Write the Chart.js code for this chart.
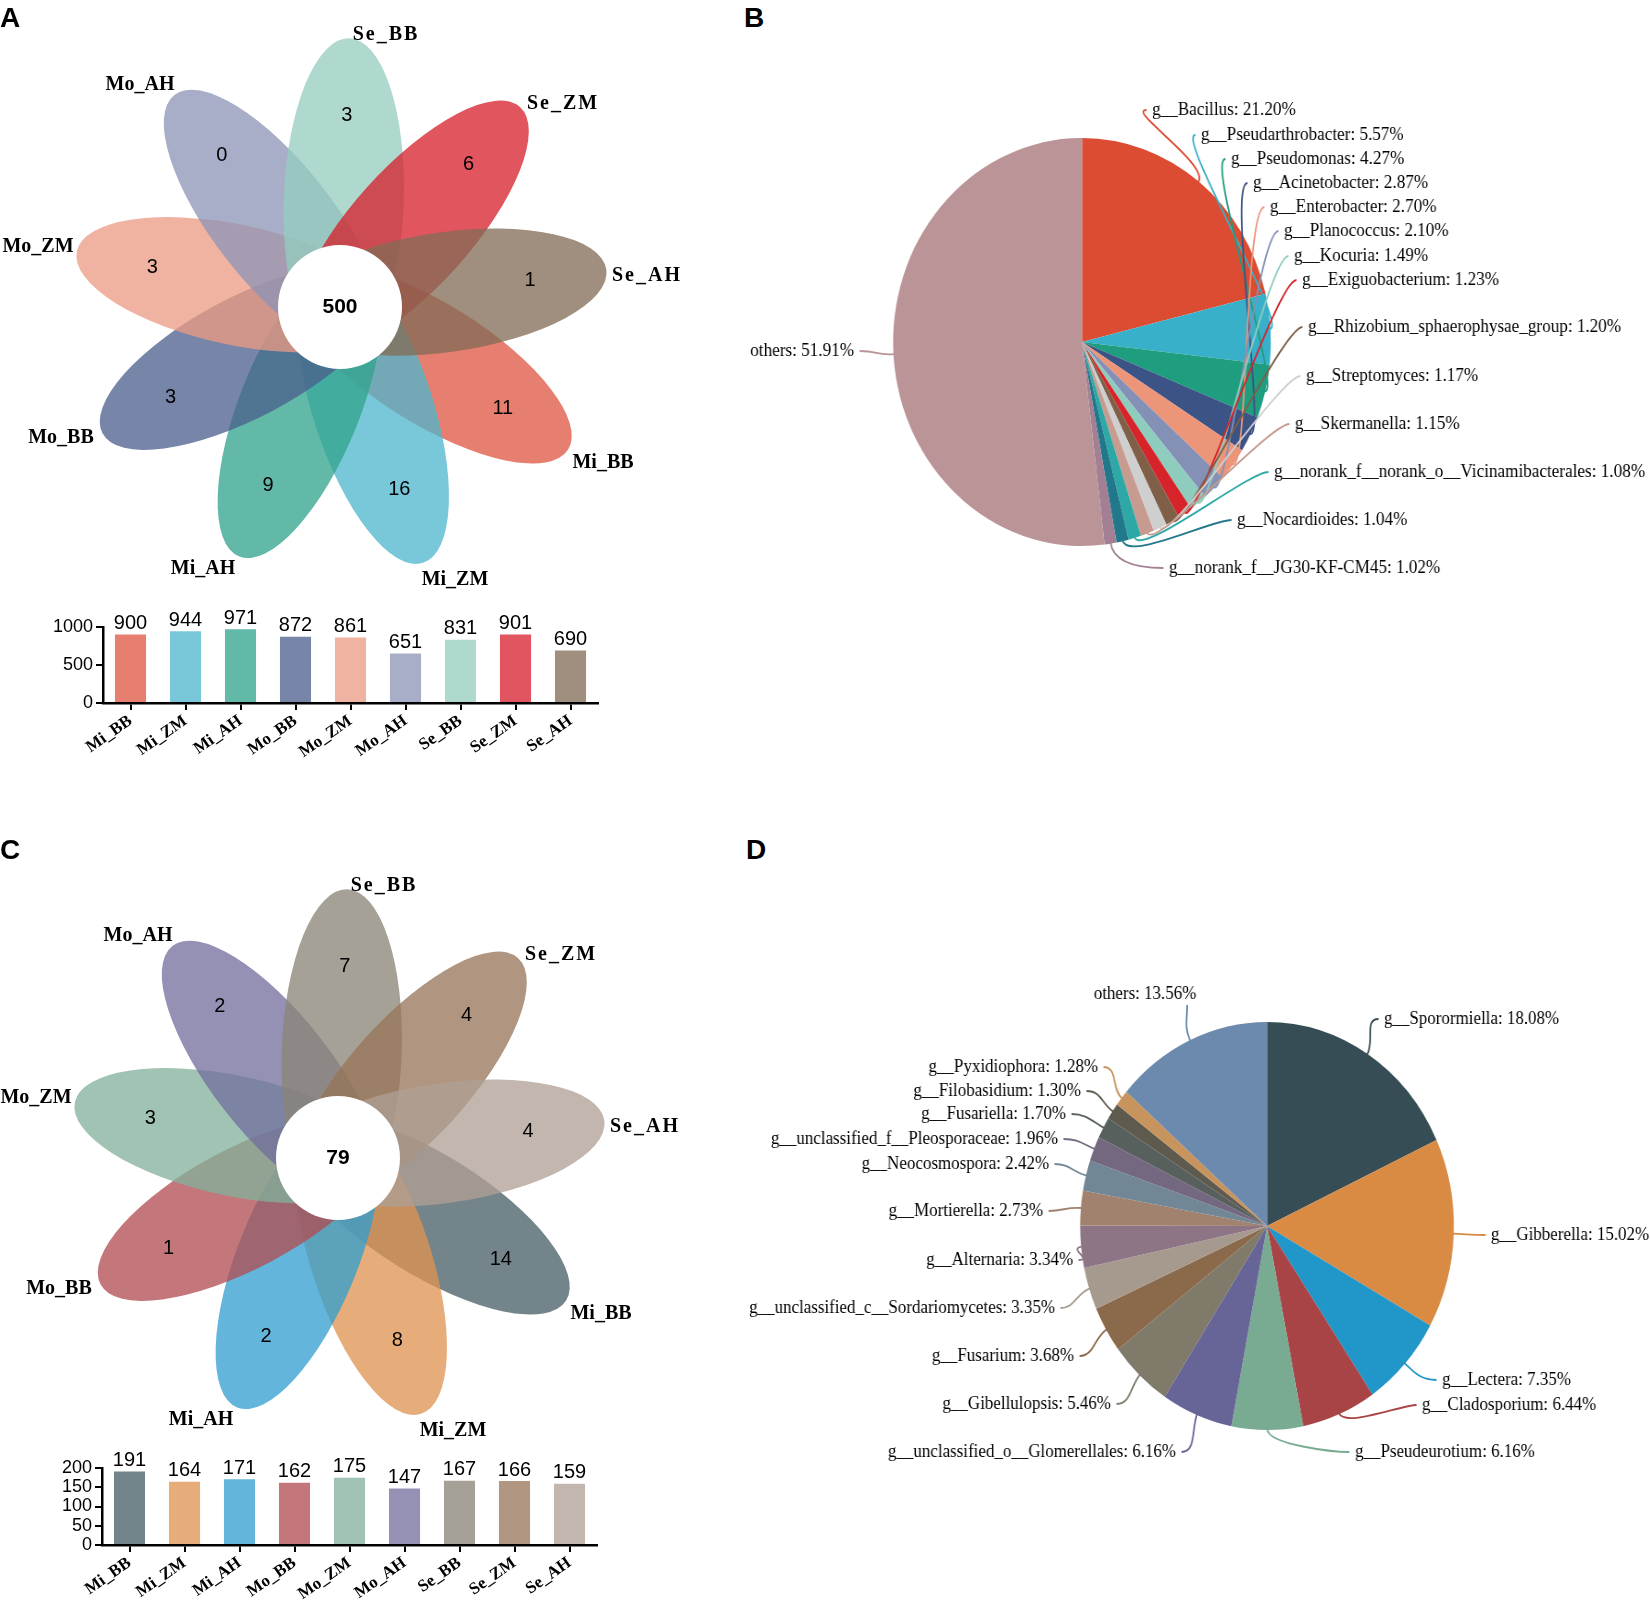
<!DOCTYPE html>
<html>
<head>
<meta charset="utf-8">
<script src="https://cdn.jsdelivr.net/npm/chart.js@4.4.1/dist/chart.umd.min.js"></script>
<style>
  body { margin: 0; background: #fff; width: 1650px; height: 1600px; position: relative; overflow: hidden; }
  .box { position: absolute; }
  .squeeze { transform-origin: 0 0; }
  .tag { position: absolute; font: bold 28px "Liberation Sans", Arial, sans-serif; line-height: 1; }
</style>
</head>
<body>
<div class="box" style="left:0;top:0"><canvas id="flowerA" width="700" height="600"></canvas></div>
<div class="box" style="left:0;top:800px"><canvas id="flowerC" width="700" height="660"></canvas></div>
<div class="box" style="left:0;top:590px"><canvas id="barA" width="640" height="170"></canvas></div>
<div class="box" style="left:0;top:1420px"><canvas id="barC" width="640" height="180"></canvas></div>
<div class="box squeeze" style="left:740px;top:60px;transform:scaleX(0.926)"><canvas id="pieB" width="983" height="560"></canvas></div>
<div class="box squeeze" style="left:740px;top:880px;transform:scaleX(0.916)"><canvas id="pieD" width="994" height="620"></canvas></div>
<div class="tag" style="left:0;top:4px">A</div>
<div class="tag" style="left:744px;top:4px">B</div>
<div class="tag" style="left:0;top:836px">C</div>
<div class="tag" style="left:746px;top:836px">D</div>
<script>
// samples (same order in bars and petals)
const samples = ['Mi_BB', 'Mi_ZM', 'Mi_AH', 'Mo_BB', 'Mo_ZM', 'Mo_AH', 'Se_BB', 'Se_ZM', 'Se_AH'];

// bacteria (A)
const bacTotals = [900, 944, 971, 872, 861, 651, 831, 901, 690];
const bacUnique = [11, 16, 9, 3, 3, 0, 3, 6, 1];
const bacCore = 500;
const bacTicks = [0, 500, 1000];

// fungi (C)
const fungTotals = [191, 164, 171, 162, 175, 147, 167, 166, 159];
const fungUnique = [14, 8, 2, 1, 3, 2, 7, 4, 4];
const fungCore = 79;
const fungTicks = [0, 50, 100, 150, 200];

// genus composition (B)
const bacGenera = ['g__Bacillus', 'g__Pseudarthrobacter', 'g__Pseudomonas', 'g__Acinetobacter', 'g__Enterobacter',
  'g__Planococcus', 'g__Kocuria', 'g__Exiguobacterium', 'g__Rhizobium_sphaerophysae_group', 'g__Streptomyces',
  'g__Skermanella', 'g__norank_f__norank_o__Vicinamibacterales', 'g__Nocardioides', 'g__norank_f__JG30-KF-CM45', 'others'];
const bacShare = [21.20, 5.57, 4.27, 2.87, 2.70, 2.10, 1.49, 1.23, 1.20, 1.17, 1.15, 1.08, 1.04, 1.02, 51.91];

// genus composition (D)
const fungGenera = ['g__Sporormiella', 'g__Gibberella', 'g__Lectera', 'g__Cladosporium', 'g__Pseudeurotium',
  'g__unclassified_o__Glomerellales', 'g__Gibellulopsis', 'g__Fusarium', 'g__unclassified_c__Sordariomycetes',
  'g__Alternaria', 'g__Mortierella', 'g__Neocosmospora', 'g__unclassified_f__Pleosporaceae', 'g__Fusariella',
  'g__Filobasidium', 'g__Pyxidiophora', 'others'];
const fungShare = [18.08, 15.02, 7.35, 6.44, 6.16, 6.16, 5.46, 3.68, 3.35, 3.34, 2.73, 2.42, 1.96, 1.70, 1.30, 1.28, 13.56];

// colours
const bacBarColors = ['#e67f70', '#79c8d9', '#62b9a8', '#7685a8', '#f1b3a1', '#a8aec8', '#afd9cf', '#e0555f', '#a08f7e'];
const fungBarColors = ['#73848a', '#e6ad7a', '#63b5db', '#c4777a', '#a0c3b3', '#9491b5', '#a6a197', '#b09680', '#c2b6ae'];
const bacPieColors = ['#dc4c33', '#39b0c9', '#1e9d7f', '#3b5385', '#ed9579', '#8490b5', '#8ecdbd', '#d7232a',
  '#7f5f47', '#cfcfcf', '#c79b8f', '#2da8a6', '#22788b', '#a27f92', '#bb9498'];
const fungPieColors = ['#374d55', '#d98a43', '#2196c9', '#a84446', '#79ab92', '#676497', '#7f7a6a', '#8b6a4c',
  '#a69a8f', '#8d7585', '#a0826e', '#718795', '#746880', '#58605d', '#5e5a4e', '#c8945e', '#6c8aad'];

// layout
const SERIF = '"Liberation Serif", "Times New Roman", serif';
const SANS = '"Liberation Sans", Arial, sans-serif';
const petal = { start: 122, step: 40, dist: 107, a: 162, b: 60, alpha: 0.76, numDist: 192, core: 62 };
const nameOffsets = [[263, 156], [115, 273], [-137, 262], [-279, 131], [-302, -60], [-200, -222],
  [46, -272], [223, -203], [307, -31]];
const bacLabelPos = [[1152, 110, 'l'], [1201, 135, 'l'], [1231, 159, 'l'], [1253, 183, 'l'], [1270, 207, 'l'],
  [1284, 231, 'l'], [1294, 256, 'l'], [1302, 280, 'l'], [1308, 327, 'l'], [1306, 376, 'l'], [1295, 424, 'l'],
  [1274, 472, 'l'], [1237, 520, 'l'], [1169, 568, 'l'], [854, 351, 'r']];
const fungLabelPos = [[1384, 1019, 'l'], [1491, 1235, 'l'], [1442, 1380, 'l'], [1422, 1405, 'l'], [1355, 1452, 'l'],
  [1176, 1452, 'r'], [1111, 1404, 'r'], [1074, 1356, 'r'], [1055, 1308, 'r'], [1073, 1260, 'r'], [1043, 1211, 'r'],
  [1049, 1164, 'r'], [1058, 1139, 'r'], [1066, 1114, 'r'], [1081, 1091, 'r'], [1098, 1067, 'r'], [1145, 994, 'c']];

// colour seen on white -> base colour of a translucent petal
function petalColor(hex, a) {
  const n = parseInt(hex.slice(1), 16);
  const ch = [n >> 16, (n >> 8) & 255, n & 255].map(v => Math.max(0, Math.min(255, Math.round((v - (1 - a) * 255) / a))));
  return `rgba(${ch[0]},${ch[1]},${ch[2]},${a})`;
}

const deg = Math.PI / 180;

// petals, core circle and counts
const flowerPlugin = {
  id: 'flower',
  beforeDatasetsDraw(chart, args, o) {
    const ctx = chart.ctx, xs = chart.scales.x, ys = chart.scales.y;
    const ux = xs.getPixelForValue(1) - xs.getPixelForValue(0);
    ctx.save();
    samples.forEach((s, i) => {
      const t = (petal.start + petal.step * i) * deg;
      const px = xs.getPixelForValue(Math.sin(t) * petal.dist);
      const py = ys.getPixelForValue(Math.cos(t) * petal.dist);
      ctx.fillStyle = petalColor(o.colors[i], petal.alpha);
      ctx.beginPath();
      ctx.ellipse(px, py, petal.a * ux, petal.b * ux, t - Math.PI / 2, 0, Math.PI * 2);
      ctx.fill();
    });
    ctx.restore();
  },
  afterDatasetsDraw(chart, args, o) {
    const ctx = chart.ctx, xs = chart.scales.x, ys = chart.scales.y;
    const cx = xs.getPixelForValue(0), cy = ys.getPixelForValue(0);
    const ux = xs.getPixelForValue(1) - cx;
    ctx.save();
    ctx.fillStyle = '#fff';
    ctx.beginPath();
    ctx.arc(cx, cy, petal.core * ux, 0, Math.PI * 2);
    ctx.fill();
    ctx.fillStyle = '#000';
    ctx.textAlign = 'center';
    ctx.textBaseline = 'middle';
    ctx.font = `bold 21px ${SANS}`;
    ctx.fillText(String(o.core), cx, cy);
    ctx.font = `20px ${SANS}`;
    const meta = chart.getDatasetMeta(0);
    meta.data.forEach((pt, i) => {
      ctx.fillText(String(chart.data.datasets[0].data[i].v), pt.x, pt.y);
    });
    ctx.font = `bold 20px ${SERIF}`;
    samples.forEach((s, i) => {
      ctx.letterSpacing = s.startsWith('Se') ? '2px' : '0px';
      ctx.fillText(s, cx + nameOffsets[i][0], cy + nameOffsets[i][1]);
    });
    ctx.restore();
  }
};

function flowerChart(id, unique, core, colors, cxp, cyp) {
  const el = document.getElementById(id);
  const W = el.width, H = el.height;
  const pts = unique.map((v, i) => {
    const t = (petal.start + petal.step * i) * deg;
    return { x: Math.sin(t) * petal.numDist, y: Math.cos(t) * petal.numDist, v: v };
  });
  new Chart(el, {
    type: 'scatter',
    data: { datasets: [{ data: pts, pointRadius: 0 }] },
    options: {
      responsive: false,
      animation: false,
      events: [],
      layout: { padding: 0 },
      plugins: { legend: { display: false }, tooltip: { enabled: false }, flower: { colors: colors, core: core } },
      scales: {
        x: { type: 'linear', display: false, min: -cxp, max: W - cxp },
        y: { type: 'linear', display: false, min: -(H - cyp), max: cyp }
      }
    },
    plugins: [flowerPlugin]
  });
}

// numbers above the bars
const valuePlugin = {
  id: 'values',
  afterDatasetsDraw(chart) {
    const ctx = chart.ctx;
    ctx.save();
    ctx.fillStyle = '#000';
    ctx.font = `20px ${SANS}`;
    ctx.textAlign = 'center';
    ctx.textBaseline = 'bottom';
    chart.getDatasetMeta(0).data.forEach((bar, i) => {
      ctx.fillText(String(chart.data.datasets[0].data[i]), bar.x, bar.y - 1);
    });
    ctx.restore();
  }
};

function barChart(id, totals, colors, ticks, geo) {
  new Chart(document.getElementById(id), {
    type: 'bar',
    data: {
      labels: samples,
      datasets: [{ data: totals, backgroundColor: colors, barPercentage: 0.565, categoryPercentage: 1 }]
    },
    options: {
      responsive: false,
      animation: false,
      events: [],
      layout: { padding: { top: geo.top, right: geo.right, left: 0, bottom: 0 } },
      plugins: { legend: { display: false }, tooltip: { enabled: false } },
      scales: {
        x: {
          grid: { drawOnChartArea: false, offset: false, color: '#000', lineWidth: 2, tickLength: 7 },
          border: { color: '#000', width: 2.5 },
          ticks: { color: '#000', font: { family: SERIF, weight: 'bold', size: 17 }, minRotation: 35, maxRotation: 35, padding: 1 },
          afterFit: s => { s.height = geo.xh; }
        },
        y: {
          min: ticks[0],
          max: ticks[ticks.length - 1],
          afterBuildTicks: s => { s.ticks = ticks.map(v => ({ value: v })); },
          grid: { drawOnChartArea: false, color: '#000', lineWidth: 2, tickLength: 7 },
          border: { color: '#000', width: 2.5 },
          ticks: {
            autoSkip: false, color: '#000', font: { family: SANS, size: geo.tickSize }, padding: 3,
            callback: v => String(v)
          },
          afterFit: s => { s.width = geo.yw; }
        }
      }
    },
    plugins: [valuePlugin]
  });
}

// slice labels with leader lines
const pieLabels = {
  id: 'pieLabels',
  afterDatasetsDraw(chart, args, o) {
    const ctx = chart.ctx;
    const ds = chart.data.datasets[0];
    ctx.save();
    ctx.font = `${o.size}px ${SERIF}`;
    ctx.textBaseline = 'middle';
    chart.getDatasetMeta(0).data.forEach((arc, i) => {
      const mid = (arc.startAngle + arc.endAngle) / 2;
      const r = arc.outerRadius;
      const dx = Math.cos(mid), dy = Math.sin(mid);
      const x0 = arc.x + dx * (r - 1), y0 = arc.y + dy * (r - 1);
      const [px, py, al] = o.pos[i];
      const lx = (px - o.left) / o.sx, ly = py - o.top;
      let ex = lx, ey = ly, c2x = lx, c2y = ly;
      if (al === 'l') { ex = lx - 6; c2x = ex - o.bend; c2y = ey; }
      else if (al === 'r') { ex = lx + 6; c2x = ex + o.bend; c2y = ey; }
      else { ex = lx + 46; ey = ly + 11; c2x = ex; c2y = ey + o.bend; }
      ctx.strokeStyle = ds.backgroundColor[i];
      ctx.lineWidth = 1.8;
      ctx.beginPath();
      ctx.moveTo(x0, y0);
      ctx.bezierCurveTo(x0 + dx * o.bend, y0 + dy * o.bend, c2x, c2y, ex, ey);
      ctx.stroke();
      ctx.fillStyle = '#000';
      ctx.textAlign = al === 'l' ? 'left' : al === 'r' ? 'right' : 'center';
      ctx.fillText(`${chart.data.labels[i]}: ${ds.data[i].toFixed(2)}%`, lx, ly);
    });
    ctx.restore();
  }
};

function pieChart(id, names, shares, colors, pos, geo) {
  const el = document.getElementById(id);
  const ccx = (geo.cx - geo.left) / geo.sx, ccy = geo.cy - geo.top;
  new Chart(el, {
    type: 'pie',
    data: { labels: names, datasets: [{ data: shares, backgroundColor: colors, borderWidth: 0, hoverOffset: 0 }] },
    options: {
      responsive: false,
      animation: false,
      events: [],
      layout: {
        padding: {
          left: ccx - geo.r, right: el.width - ccx - geo.r,
          top: ccy - geo.r, bottom: el.height - ccy - geo.r
        }
      },
      plugins: {
        legend: { display: false },
        tooltip: { enabled: false },
        pieLabels: { pos: pos, left: geo.left, top: geo.top, sx: geo.sx, size: geo.font, bend: geo.bend }
      }
    },
    plugins: [pieLabels]
  });
}

flowerChart('flowerA', bacUnique, bacCore, bacBarColors, 340, 307);
flowerChart('flowerC', fungUnique, fungCore, fungBarColors, 338, 358);
barChart('barA', bacTotals, bacBarColors, bacTicks, { top: 37, right: 42, xh: 57, yw: 103, tickSize: 18 });
barChart('barC', fungTotals, fungBarColors, fungTicks, { top: 48, right: 43, xh: 55, yw: 102, tickSize: 18 });
pieChart('pieB', bacGenera, bacShare, bacPieColors, bacLabelPos,
  { left: 740, top: 60, sx: 0.926, cx: 1082, cy: 342, r: 204, font: 18.5, bend: 22 });
pieChart('pieD', fungGenera, fungShare, fungPieColors, fungLabelPos,
  { left: 740, top: 880, sx: 0.916, cx: 1267, cy: 1226, r: 204, font: 18.5, bend: 16 });
</script>
</body>
</html>
